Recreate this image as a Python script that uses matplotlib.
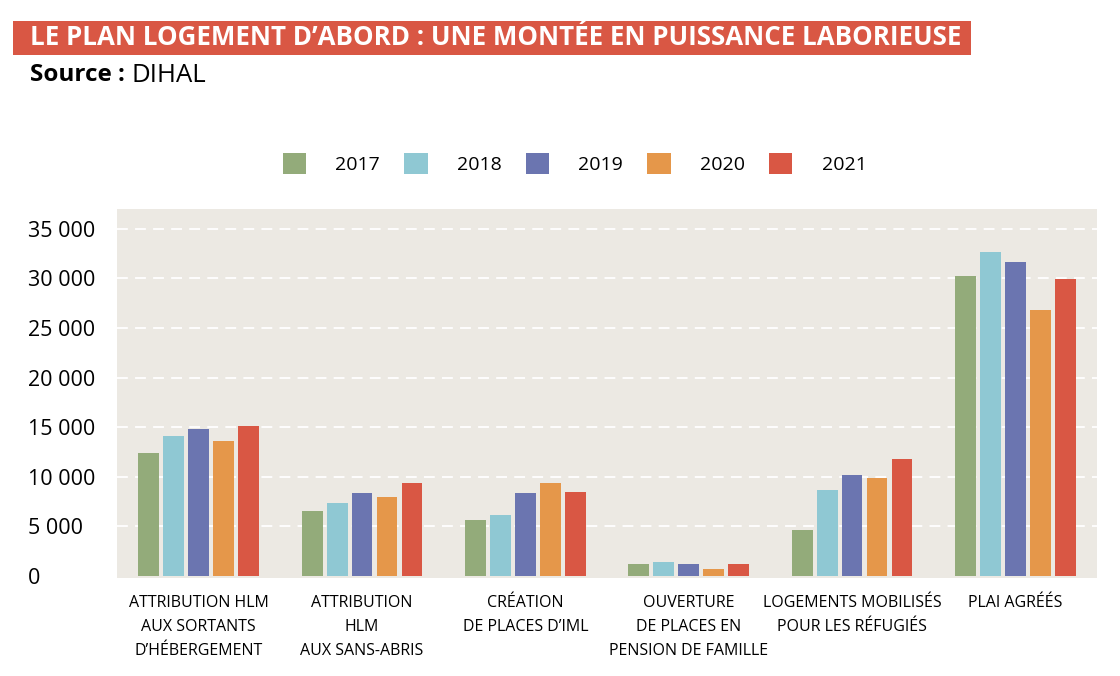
import matplotlib
matplotlib.use('Agg')
import matplotlib.pyplot as plt
from matplotlib.patches import Rectangle, Patch
import numpy as np

plt.rcParams['font.family'] = ['Open Sans', 'DejaVu Sans']

categories = ["ATTRIBUTION HLM\nAUX SORTANTS\nD’HÉBERGEMENT",
              "ATTRIBUTION\nHLM\nAUX SANS-ABRIS",
              "CRÉATION\nDE PLACES D’IML",
              "OUVERTURE\nDE PLACES EN\nPENSION DE FAMILLE",
              "LOGEMENTS MOBILISÉS\nPOUR LES RÉFUGIÉS",
              "PLAI AGRÉÉS"]
years = ["2017", "2018", "2019", "2020", "2021"]
v2017 = [12400, 6550, 5650, 1210, 4650, 30200]
v2018 = [14100, 7370, 6150, 1410, 8690, 32630]
v2019 = [14850, 8380, 8380, 1210, 10200, 31620]
v2020 = [13600, 7980, 9390, 710, 9900, 26770]
v2021 = [15150, 9390, 8480, 1210, 11820, 29900]
yticks = [0, 5000, 10000, 15000, 20000, 25000, 30000, 35000]
ytick_labels = ["0", "5 000", "10 000", "15 000", "20 000", "25 000", "30 000", "35 000"]

colors = ['#93AB7A', '#8FC8D3', '#6B75B0', '#E5974A', '#D95744']
series = [v2017, v2018, v2019, v2020, v2021]

fig = plt.figure(figsize=(11.2, 6.76), dpi=100)
ax = fig.add_axes([0.1045, 0.145, 0.875, 0.546])
ax.set_facecolor('#ECE9E3')

x = np.arange(len(categories))
step = 0.153
width = 0.128
for i, (vals, c) in enumerate(zip(series, colors)):
    ax.bar(x + (i - 2) * step, vals, width=width, color=c, zorder=3)

for t in yticks[1:]:
    ax.axhline(t, color='white', lw=1.3, ls=(0, (6, 4)), zorder=1)

ax.set_xlim(-0.5, 5.5)
ax.set_ylim(-200, 37000)
ax.set_yticks(yticks)
ax.set_yticklabels(ytick_labels, fontsize=15.5, ha='left')
ax.tick_params(axis='y', length=0, pad=64)
ax.set_xticks(x)
ax.set_xticklabels(categories, fontsize=11.5, linespacing=1.7, va='top')
ax.tick_params(axis='x', length=0, pad=12)
for s in ax.spines.values():
    s.set_visible(False)

handles = [Patch(facecolor=c, edgecolor='none') for c in colors]
fig.legend(handles, years, loc='center', bbox_to_anchor=(0.513, 0.758), ncol=5,
           frameon=False, fontsize=14, handlelength=1.2, handleheight=1.3,
           handletextpad=1.5, columnspacing=1.25)

# title box
fig.patches.append(Rectangle((0.0116, 0.9186), 0.855, 0.0504, transform=fig.transFigure,
                             facecolor='#D95744', edgecolor='none'))
fig.text(0.027, 0.9438, "LE PLAN LOGEMENT D’ABORD : UNE MONTÉE EN PUISSANCE LABORIEUSE",
         fontsize=18.6, fontweight='bold', color='white', va='center', ha='left')
src = fig.text(0.027, 0.889, "Source : ", fontsize=17.5, fontweight='bold', va='center', ha='left')
fig.canvas.draw()
bb = src.get_window_extent().transformed(fig.transFigure.inverted())
fig.text(bb.x1, 0.889, "DIHAL", fontsize=18.5, va='center', ha='left')

fig.savefig('out.png', dpi=100)
